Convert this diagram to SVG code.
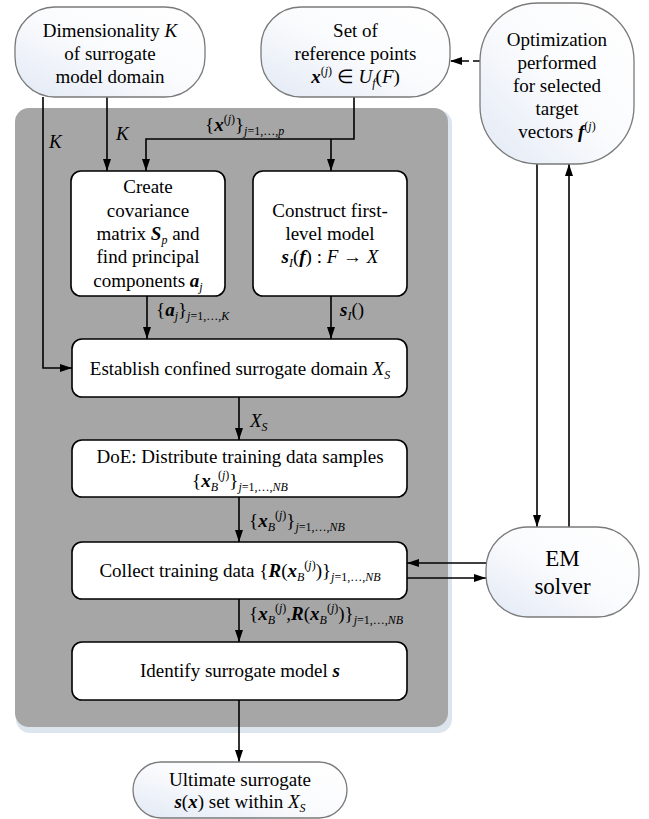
<svg xmlns="http://www.w3.org/2000/svg" width="649" height="819" viewBox="0 0 649 819" font-family="Liberation Serif, Times New Roman, serif">
<defs>
<style>
.t{font-size:19px;fill:#000}
.c{text-anchor:middle}
.bi{font-weight:bold;font-style:italic}
.i{font-style:italic}
.s{font-size:12px}
.em{font-size:23px}
.node{fill:url(#g);stroke:#7a7a7a;stroke-width:1.3}
.box{fill:#fff;stroke:#000;stroke-width:1.6}
.ln{fill:none;stroke:#000;stroke-width:1.6}
.arr{marker-end:url(#ah)}
.dash{stroke-dasharray:7 4}
</style>
<linearGradient id="g" x1="1" y1="0" x2="0" y2="1">
<stop offset="0" stop-color="#ffffff"/>
<stop offset="0.5" stop-color="#fafbfd"/>
<stop offset="1" stop-color="#e2e9f5"/>
</linearGradient>
<marker id="ah" markerWidth="12" markerHeight="8" refX="12" refY="4" orient="auto" markerUnits="userSpaceOnUse">
<path d="M0,0 L12,4 L0,8 z" fill="#000"/>
</marker>
</defs>

<g id="panel">
<rect x="16" y="110" width="436" height="623" rx="14" fill="#dce4ee"/>
<rect x="15" y="108" width="433" height="619" rx="14" fill="#a6a6a6"/>
</g>

<g id="connectors">
<path class="ln arr" d="M43,97 V368 H72"/>
<path class="ln arr" d="M107,97 V171"/>
<path class="ln arr" d="M354,97 V139 H146 V171"/>
<path class="ln arr" d="M331,139 V171"/>
<path class="ln arr" d="M147,296 V339"/>
<path class="ln arr" d="M331,296 V339"/>
<path class="ln arr" d="M239,397 V440"/>
<path class="ln arr" d="M239,497 V542"/>
<path class="ln arr" d="M239,599 V642"/>
<path class="ln arr" d="M239,700 V762"/>
<path class="ln arr" d="M486,563 H407"/>
<path class="ln arr" d="M407,578 H486"/>
<path class="ln arr" d="M537,164 V527"/>
<path class="ln arr" d="M569,527 V164"/>
<path class="ln arr dash" d="M480,61 H450"/>
</g>

<g id="labels">
<text class="t i" x="49" y="148">K</text>
<text class="t i" x="116" y="140">K</text>
<text class="t" x="205" y="131">{<tspan class="bi">x</tspan><tspan class="s" dy="-8">(<tspan class="i">j</tspan>)</tspan><tspan dy="8">}</tspan><tspan class="s" dy="4"><tspan class="i">j</tspan>=1,…,<tspan class="i">p</tspan></tspan></text>
<text class="t" x="156" y="316">{<tspan class="bi">a</tspan><tspan class="s i" dy="4">j</tspan><tspan dy="-4">}</tspan><tspan class="s" dy="4"><tspan class="i">j</tspan>=1,…,<tspan class="i">K</tspan></tspan></text>
<text class="t" x="340" y="316"><tspan class="bi">s</tspan><tspan class="s i" dy="4">I</tspan><tspan dy="-4">()</tspan></text>
<text class="t i" x="250" y="427">X<tspan class="s" dy="4">S</tspan></text>
<text class="t" x="249" y="527">{<tspan class="bi">x</tspan><tspan class="s i" dy="4">B</tspan><tspan class="s" dy="-12">(<tspan class="i">j</tspan>)</tspan><tspan dy="8">}</tspan><tspan class="s" dy="4"><tspan class="i">j</tspan>=1,…,<tspan class="i">NB</tspan></tspan></text>
<text class="t" x="249" y="620">{<tspan class="bi">x</tspan><tspan class="s i" dy="4">B</tspan><tspan class="s" dy="-12">(<tspan class="i">j</tspan>)</tspan><tspan dy="8">,</tspan><tspan class="bi">R</tspan>(<tspan class="bi">x</tspan><tspan class="s i" dy="4">B</tspan><tspan class="s" dy="-12">(<tspan class="i">j</tspan>)</tspan><tspan dy="8">)}</tspan><tspan class="s" dy="4"><tspan class="i">j</tspan>=1,…,<tspan class="i">NB</tspan></tspan></text>
</g>

<g id="dimensionality">
<rect class="node" x="15" y="7" width="190" height="90" rx="40"/>
<text class="t c" x="110" y="37">Dimensionality <tspan class="i">K</tspan></text>
<text class="t c" x="110" y="60">of surrogate</text>
<text class="t c" x="110" y="83">model domain</text>
</g>

<g id="reference-points">
<rect class="node" x="261" y="7" width="189" height="90" rx="40"/>
<text class="t c" x="355.5" y="37">Set of</text>
<text class="t c" x="355.5" y="60">reference points</text>
<text class="t c" x="355.5" y="83"><tspan class="bi">x</tspan><tspan class="s" dy="-8">(<tspan class="i">j</tspan>)</tspan><tspan dy="8"> ∈ </tspan><tspan class="i">U</tspan><tspan class="s i" dy="4">f</tspan><tspan dy="-4">(</tspan><tspan class="i">F</tspan>)</text>
</g>

<g id="optimization">
<rect class="node" x="480" y="3" width="154" height="161" rx="58"/>
<text class="t c" x="557" y="46">Optimization</text>
<text class="t c" x="557" y="69">performed</text>
<text class="t c" x="557" y="92">for selected</text>
<text class="t c" x="557" y="115">target</text>
<text class="t c" x="557" y="138">vectors <tspan class="bi">f</tspan><tspan class="s" dy="-8">(<tspan class="i">j</tspan>)</tspan></text>
</g>

<g id="covariance">
<rect class="box" x="71" y="171" width="154" height="125" rx="10"/>
<text class="t c" x="148" y="193">Create</text>
<text class="t c" x="148" y="217">covariance</text>
<text class="t c" x="148" y="240">matrix <tspan class="bi">S</tspan><tspan class="s i" dy="4">p</tspan><tspan dy="-4"> and</tspan></text>
<text class="t c" x="148" y="263">find principal</text>
<text class="t c" x="148" y="287">components <tspan class="bi">a</tspan><tspan class="s i" dy="4">j</tspan></text>
</g>

<g id="first-level">
<rect class="box" x="253" y="171" width="154" height="125" rx="10"/>
<text class="t c" x="330" y="217">Construct first-</text>
<text class="t c" x="330" y="240">level model</text>
<text class="t c" x="330" y="263"><tspan class="bi">s</tspan><tspan class="s i" dy="4">I</tspan><tspan dy="-4">(</tspan><tspan class="bi">f</tspan>) : <tspan class="i">F</tspan> → <tspan class="i">X</tspan></text>
</g>

<g id="establish">
<rect class="box" x="72" y="339" width="335" height="58" rx="10"/>
<text class="t c" x="240" y="375">Establish confined surrogate domain <tspan class="i">X</tspan><tspan class="s i" dy="4">S</tspan></text>
</g>

<g id="doe">
<rect class="box" x="72" y="440" width="335" height="57" rx="10"/>
<text class="t c" x="240" y="463">DoE: Distribute training data samples</text>
<text class="t c" x="240" y="487">{<tspan class="bi">x</tspan><tspan class="s i" dy="4">B</tspan><tspan class="s" dy="-12">(<tspan class="i">j</tspan>)</tspan><tspan dy="8">}</tspan><tspan class="s" dy="4"><tspan class="i">j</tspan>=1,…,<tspan class="i">NB</tspan></tspan></text>
</g>

<g id="collect">
<rect class="box" x="72" y="542" width="335" height="57" rx="10"/>
<text class="t c" x="240" y="577">Collect training data {<tspan class="bi">R</tspan>(<tspan class="bi">x</tspan><tspan class="s i" dy="4">B</tspan><tspan class="s" dy="-12">(<tspan class="i">j</tspan>)</tspan><tspan dy="8">)}</tspan><tspan class="s" dy="4" font-size="11"><tspan class="i">j</tspan>=1,…,<tspan class="i">NB</tspan></tspan></text>
</g>

<g id="identify">
<rect class="box" x="72" y="642" width="335" height="58" rx="10"/>
<text class="t c" x="240" y="677">Identify surrogate model <tspan class="bi">s</tspan></text>
</g>

<g id="em-solver">
<rect class="node" x="486" y="527" width="153" height="90" rx="42"/>
<text class="t c em" x="562.5" y="566">EM</text>
<text class="t c em" x="562.5" y="594">solver</text>
</g>

<g id="ultimate">
<rect class="node" x="133" y="762" width="214" height="56" rx="28"/>
<text class="t c" x="240" y="786">Ultimate surrogate</text>
<text class="t c" x="240" y="808"><tspan class="bi">s</tspan>(<tspan class="bi">x</tspan>) set within <tspan class="i">X</tspan><tspan class="s i" dy="4">S</tspan></text>
</g>
</svg>
